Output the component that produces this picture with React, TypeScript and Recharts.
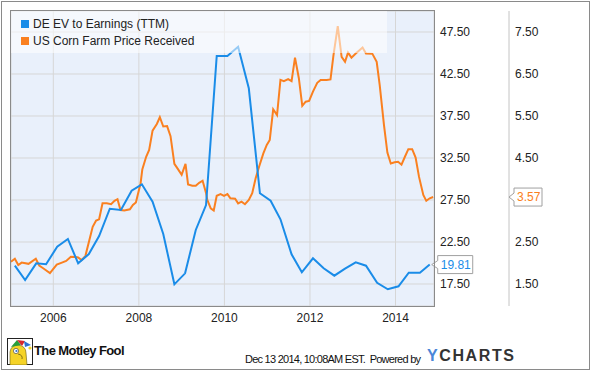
import React from 'react';
import { LineChart, Line, XAxis, YAxis, CartesianGrid, LabelList } from 'recharts';

const FONT = '"Liberation Sans", Arial, Helvetica, sans-serif';
const BLUE = '#1a8ce8';
const ORANGE = '#fa8020';

// DE EV to Earnings (TTM), quarterly
const evYears = [
  2005.10, 2005.34, 2005.60, 2005.83, 2006.09, 2006.34, 2006.58, 2006.83,
  2007.07, 2007.32, 2007.58, 2007.83, 2008.07, 2008.32, 2008.57, 2008.83,
  2009.08, 2009.33, 2009.57, 2009.82, 2010.07, 2010.32, 2010.57, 2010.83,
  2011.08, 2011.31, 2011.57, 2011.81, 2012.07, 2012.32, 2012.57, 2012.82,
  2013.07, 2013.31, 2013.57, 2013.82, 2014.07, 2014.31, 2014.57, 2014.80,
];
const evValues = [
  19.68, 17.98, 19.96, 19.85, 21.94, 22.86, 19.96, 21.07,
  23.21, 26.46, 26.31, 28.61, 29.37, 27.30, 23.45, 17.46,
  18.77, 23.93, 26.90, 44.64, 44.64, 45.75, 40.80, 28.30,
  27.42, 25.20, 21.04, 18.89, 20.56, 19.37, 18.49, 19.32,
  20.08, 19.68, 17.65, 16.87, 17.23, 18.84, 18.84, 19.81,
];

// US Corn Farm Price Received
const cornYears = [
  2005.01, 2005.10, 2005.18, 2005.26, 2005.42, 2005.59, 2005.67, 2005.77, 2005.92,
  2006.08, 2006.20, 2006.30, 2006.41, 2006.52, 2006.58, 2006.66, 2006.75, 2006.92,
  2007.00, 2007.07, 2007.15, 2007.25, 2007.35, 2007.43, 2007.50, 2007.57, 2007.66,
  2007.79, 2007.86, 2007.93, 2008.04, 2008.08, 2008.17, 2008.24, 2008.32, 2008.42,
  2008.49, 2008.57, 2008.66, 2008.74, 2008.83, 2008.91, 2009.00, 2009.09, 2009.15,
  2009.25, 2009.33, 2009.41, 2009.49, 2009.57, 2009.60, 2009.68, 2009.75, 2009.82,
  2009.91, 2009.99, 2010.07, 2010.14, 2010.25, 2010.32, 2010.40, 2010.48, 2010.57,
  2010.65, 2010.73, 2010.81, 2010.91, 2010.99, 2011.06, 2011.14, 2011.23, 2011.31,
  2011.39, 2011.49, 2011.57, 2011.65, 2011.74, 2011.82, 2011.90, 2011.98, 2012.07,
  2012.17, 2012.25, 2012.39, 2012.48, 2012.55, 2012.65, 2012.74, 2012.82, 2012.89,
  2012.97, 2013.07, 2013.23, 2013.31, 2013.46, 2013.56, 2013.63, 2013.73, 2013.81,
  2013.89, 2013.98, 2014.06, 2014.14, 2014.22, 2014.30, 2014.39, 2014.47, 2014.55,
  2014.65, 2014.72, 2014.80, 2014.88,
];
const cornValues = [
  2.03, 2.10, 1.95, 2.01, 1.98, 2.10, 1.94, 1.87, 1.76,
  1.96, 2.01, 2.05, 2.15, 2.14, 2.13, 2.07, 2.17, 2.86,
  3.01, 3.04, 3.42, 3.42, 3.40, 3.48, 3.52, 3.26, 3.25,
  3.28, 3.38, 3.44, 3.90, 4.23, 4.53, 4.69, 5.15, 5.31,
  5.47, 5.25, 5.26, 5.02, 4.36, 4.24, 4.10, 4.36, 3.87,
  3.84, 3.84, 3.91, 3.96, 3.67, 3.50, 3.30, 3.25, 3.60,
  3.64, 3.60, 3.64, 3.54, 3.53, 3.42, 3.46, 3.40, 3.50,
  3.66, 4.02, 4.29, 4.61, 4.81, 4.93, 5.66, 5.52, 6.36,
  6.33, 6.38, 6.33, 6.89, 6.40, 5.74, 5.84, 5.86, 6.08,
  6.29, 6.36, 6.36, 6.37, 6.95, 7.64, 6.91, 6.79, 7.01,
  6.89, 6.99, 7.13, 6.99, 6.98, 6.79, 6.24, 5.29, 4.63,
  4.37, 4.40, 4.41, 4.34, 4.53, 4.71, 4.71, 4.51, 4.05,
  3.62, 3.48, 3.54, 3.57,
];

const yearTicks = [2006, 2008, 2010, 2012, 2014];
const evTicks = [17.5, 22.5, 27.5, 32.5, 37.5, 42.5, 47.5];
const cornTicks = [1.5, 2.5, 3.57, 4.5, 5.5, 6.5, 7.5];
const cornLast = cornValues[cornValues.length - 1];

const evData = evYears.map((t, i) => ({ t, v: evValues[i] }));
const cornData = cornYears.map((t, i) => ({ t, v: cornValues[i] }));

const EvEndLabel = (props: any) => {
  const { x, y, index, value } = props;
  if (index !== evData.length - 1) return <g />;
  const left = x + 8;
  return (
    <g>
      <polygon
        points={`${x + 2},${y} ${left},${y - 4} ${left},${y - 9} ${left + 35},${y - 9} ${left + 35},${y + 9} ${left},${y + 9} ${left},${y + 4}`}
        fill="#fff"
        stroke="#a0a0a0"
      />
      <text x={left + 3} y={y} dy="0.355em" fill={BLUE} fontSize={12} fontFamily={FONT}>
        {Number(value).toFixed(2)}
      </text>
    </g>
  );
};

const CornTick = (props: any) => {
  const { x, y, payload } = props;
  if (payload.value === cornLast) {
    const left = x - 1;
    return (
      <g>
        <polygon
          points={`${x - 6},${y} ${left},${y - 4} ${left},${y - 9} ${left + 28},${y - 9} ${left + 28},${y + 9} ${left},${y + 9} ${left},${y + 4}`}
          fill="#fff"
          stroke="#a0a0a0"
        />
        <text x={left + 3} y={y} dy="0.355em" fill={ORANGE} fontSize={12} fontFamily={FONT}>
          {payload.value.toFixed(2)}
        </text>
      </g>
    );
  }
  return (
    <text x={x} y={y} dy="0.355em" fill="#222" fontSize={12} fontFamily={FONT}>
      {payload.value.toFixed(2)}
    </text>
  );
};

function FoolLogo() {
  return (
    <svg width={26} height={27} style={{ position: 'absolute', left: 7, top: 338 }}>
      <rect x={0.5} y={0.5} width={25} height={26} fill="#fff" stroke="#222" />
      <path d="M3 27 L3 14 Q4 7 11 7 Q19 8 19 15 L20 27 Z" fill="#f5d327" stroke="#6a5a10" strokeWidth={0.6} />
      <path d="M4 9 L10 2 L14 7 Z" fill="#2a9d3a" />
      <path d="M10 2 L18 3 L15 8 Z" fill="#d8262c" />
      <path d="M17 3 L24 7 L18 9 Z" fill="#2c6fd1" />
      <circle cx={9} cy={13} r={2.6} fill="#fff" stroke="#333" strokeWidth={0.6} />
      <circle cx={9.4} cy={13} r={1.1} fill="#2c6fd1" />
      <path d="M11 16 Q16 17 15 21" fill="none" stroke="#6a5a10" strokeWidth={0.8} />
      <circle cx={23} cy={10} r={1.6} fill="#f5d327" />
    </svg>
  );
}

export default function App() {
  return (
    <div style={{ position: 'absolute', left: 0, top: 0, width: 590, height: 371, background: '#fff', fontFamily: FONT }}>
      <div style={{ position: 'absolute', left: 1, top: 1, width: 589, height: 369, border: '1px solid #8a8a8a', boxSizing: 'border-box' }} />

      <div style={{ position: 'absolute', left: 0, top: 0 }}>
        <LineChart width={590} height={371} margin={{ top: 11, left: 11, right: 6, bottom: 35 }}>
          <CartesianGrid yAxisId="a" stroke="#d6d6d6" fill="#e9f0fb" />
          <XAxis
            dataKey="t"
            type="number"
            domain={[2005.01, 2014.9]}
            allowDataOverflow
            ticks={yearTicks}
            axisLine={false}
            tickLine={false}
            tickSize={0}
            tickMargin={7}
            height={30}
            tick={{ fill: '#222', fontSize: 12, fontFamily: FONT }}
          />
          {/* EV axis next to the plot, corn price axis outside it */}
          <YAxis
            yAxisId="a"
            orientation="right"
            width={75}
            domain={[14.88, 50]}
            allowDataOverflow
            ticks={evTicks}
            tickFormatter={(v: number) => v.toFixed(2)}
            axisLine={false}
            tickLine={false}
            tickSize={0}
            tickMargin={6}
            tick={{ fill: '#222', fontSize: 12, fontFamily: FONT, textAnchor: 'start' }}
          />
          <YAxis
            yAxisId="b"
            orientation="right"
            width={75}
            domain={[0.976, 8]}
            allowDataOverflow
            ticks={cornTicks}
            axisLine={{ stroke: '#c4c4c4' }}
            tickLine={false}
            tickSize={0}
            tickMargin={6}
            tick={<CornTick />}
          />
          <Line
            data={cornData}
            yAxisId="b"
            dataKey="v"
            type="linear"
            stroke={ORANGE}
            strokeWidth={2}
            dot={false}
            isAnimationActive={false}
          />
          <Line
            data={evData}
            yAxisId="a"
            dataKey="v"
            type="linear"
            stroke={BLUE}
            strokeWidth={2}
            dot={false}
            isAnimationActive={false}
          >
            <LabelList dataKey="v" content={<EvEndLabel />} />
          </Line>
        </LineChart>
      </div>

      {/* plot frame */}
      <div style={{ position: 'absolute', left: 10, top: 10, width: 425, height: 297, border: '1px solid #8a8a8a', boxSizing: 'border-box', pointerEvents: 'none' }} />

      {/* legend, semi-transparent over the lines */}
      <div style={{ position: 'absolute', left: 11, top: 11, width: 376, height: 42, background: 'rgba(255,255,255,0.55)', fontSize: 12, color: '#222' }}>
        <div style={{ position: 'absolute', left: 10, top: 9, width: 8, height: 8, background: BLUE }} />
        <div style={{ position: 'absolute', left: 22, top: 5, lineHeight: '16px' }}>DE EV to Earnings (TTM)</div>
        <div style={{ position: 'absolute', left: 10, top: 26, width: 8, height: 8, background: ORANGE }} />
        <div style={{ position: 'absolute', left: 22, top: 22, lineHeight: '16px' }}>US Corn Farm Price Received</div>
      </div>

      {/* footer */}
      <FoolLogo />
      <div style={{ position: 'absolute', left: 34, top: 343, fontSize: 13, fontWeight: 'bold', letterSpacing: -0.6, color: '#111' }}>
        The Motley Fool
      </div>
      <div style={{ position: 'absolute', left: 245, top: 352, fontSize: 11, lineHeight: '14px', color: '#111', whiteSpace: 'nowrap', letterSpacing: -0.75 }}>
        Dec 13 2014, 10:08AM EST.&nbsp; Powered by
      </div>
      <div style={{ position: 'absolute', left: 427, top: 347, fontSize: 16, lineHeight: '18px', fontWeight: 'bold', letterSpacing: 1.6, whiteSpace: 'nowrap' }}>
        <span style={{ color: '#4a86d8' }}>Y</span>
        <span style={{ color: '#333' }}>CHARTS</span>
      </div>
    </div>
  );
}
